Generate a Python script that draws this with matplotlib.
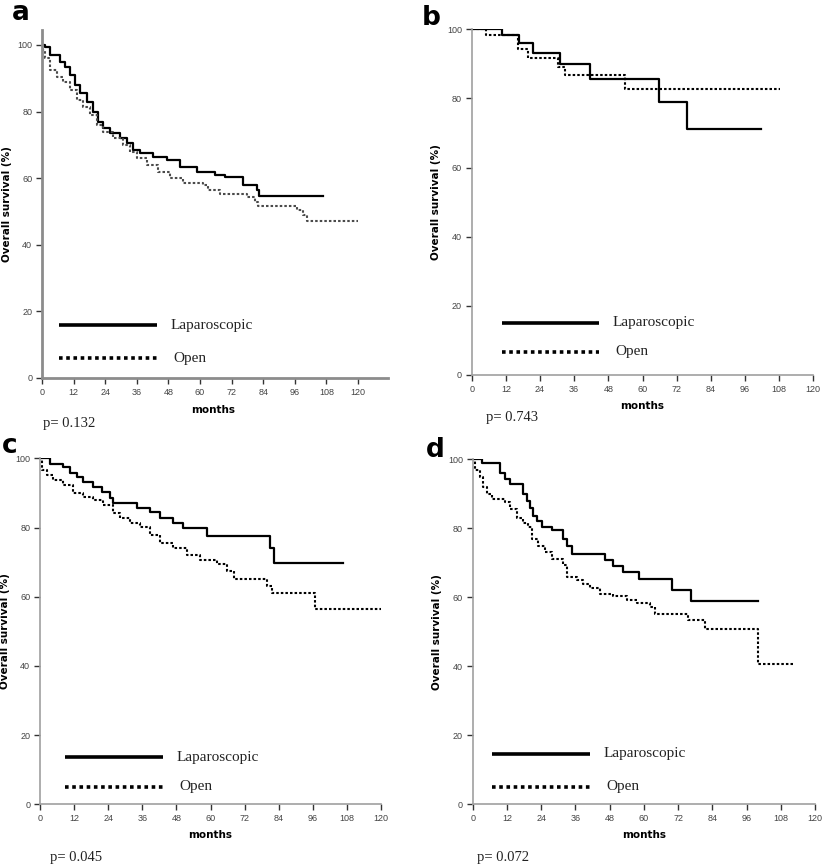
import matplotlib
matplotlib.use("Agg")
import matplotlib.pyplot as plt

# ---------------- data (months, overall survival %) ----------------
a_lap_t = [0, 0.5, 1.3, 3, 6.8, 8.7, 10.6, 12.5, 14.4, 17, 19.5, 21.4, 23.3, 25.8, 29.6, 32.2, 34.7, 37.2, 42.3, 47.4, 52.4, 58.8, 65.7, 69.5, 76.5, 81.5, 82.5, 106.8]
a_lap_s = [100, 100, 99.5, 97, 95, 93.5, 91, 88, 85.5, 83, 80, 77, 75, 73.5, 72, 70.5, 68.5, 67.5, 66.5, 65.5, 63.5, 62, 61, 60.3, 58, 56.5, 54.7, 54.7]
a_open_t = [0, 0.5, 1.1, 3, 5.6, 8.1, 10.6, 13.2, 15.7, 18.2, 20.8, 23.3, 27.1, 30.9, 33.4, 36, 39.8, 44, 48.6, 53.7, 61.3, 63.2, 67.6, 77.7, 80.9, 82.2, 96.7, 99.2, 100.5, 120]
a_open_s = [100, 98.5, 96, 92.5, 90.5, 89, 86.5, 83.5, 81.5, 79, 76, 74, 72, 70, 68, 66, 64, 62, 60, 58.7, 58, 56.5, 55.2, 54.5, 53, 51.5, 50.5, 49, 47.1, 47.1]

b_lap_t = [0, 10.5, 16.7, 21.6, 31, 41.5, 65.9, 75.8, 101.8]
b_lap_s = [100, 98.3, 95.9, 93.2, 90.1, 85.7, 78.9, 71.2, 71.2]
b_open_t = [0, 5, 16.4, 19.9, 30.4, 32.8, 53.8, 108.2]
b_open_s = [100, 98.3, 94.2, 91.6, 89.1, 86.7, 82.8, 82.8]

c_lap_t = [0, 3.5, 8.2, 10.6, 12.9, 15.2, 18.8, 21.7, 24.6, 25.8, 34, 38.7, 42.2, 46.9, 50.4, 58.8, 81, 82.2, 106.5]
c_lap_s = [100, 98.3, 97.6, 95.7, 94.7, 93.2, 91.8, 90.3, 88.4, 87, 85.5, 84.4, 82.7, 81.2, 79.8, 77.5, 74.2, 69.8, 69.8]
c_open_t = [0, 0.6, 2.3, 4.7, 8.2, 11.7, 15.2, 18.8, 22.3, 25.8, 28.1, 31.7, 35.2, 38.7, 42.2, 46.9, 51.6, 56.4, 62.3, 65.8, 68.1, 79.9, 81.6, 96.8, 120]
c_open_s = [100, 96.6, 95.2, 93.7, 92.3, 89.9, 88.9, 87.9, 86.5, 84.1, 82.7, 81.2, 80.2, 77.8, 75.4, 74, 72.1, 70.5, 69.5, 67.5, 65.1, 63, 61, 56.5, 56.5]

d_lap_t = [0, 3.2, 9.6, 11.3, 13.1, 17.8, 18.9, 20.1, 21.3, 22.4, 24.2, 27.7, 31.8, 33, 34.7, 46.4, 49.3, 52.8, 58.4, 69.8, 76.5, 100.1]
d_lap_s = [100, 98.8, 96, 94.2, 92.7, 90, 88, 86, 83.5, 82, 80.4, 79.4, 77, 75, 72.6, 70.8, 69, 67.3, 65.3, 62.2, 58.8, 58.8]
d_open_t = [0, 0.8, 2.6, 3.7, 4.9, 6.7, 11.3, 13.1, 15.4, 17.8, 19.5, 20.7, 23, 25.4, 27.7, 31.8, 33, 36.5, 38.8, 41.1, 44.6, 49.3, 54, 57.5, 62.2, 63.9, 75.6, 81.4, 100.1, 112.4]
d_open_s = [100, 97, 95, 92, 90, 88.5, 87.5, 85.5, 83, 81.5, 80.3, 77, 75, 73, 71, 69.5, 66, 65, 64, 62.7, 61, 60.3, 59.3, 58.3, 57.3, 55.3, 53.3, 50.7, 40.6, 40.6]

p_values = ["p= 0.132", "p= 0.743", "p= 0.045", "p= 0.072"]
panel_letters = ["a", "b", "c", "d"]
legend_labels = ["Laparoscopic", "Open"]
x_ticks = list(range(0, 121, 12))
y_ticks = [0, 20, 40, 60, 80, 100]

W, H = 823, 866
fig = plt.figure(figsize=(W / 100, H / 100), dpi=100)

def fx(px):
    return px / W

def fy(py):
    return 1 - py / H

panels = [
    dict(box=(42, 388, 30, 378), xlim=(0, 131.4), ylim=(0, 104.5),
         lap=(a_lap_t, a_lap_s), opn=(a_open_t, a_open_s), open_color="#4a4a4a",
         leg=dict(x0=6.5, x1=43.7, y_lap=15.9, y_open=6.0, tx=49, tx2=49.8),
         months=(213, 410), p=(43, 423), letter=(12, 20), spine_w=2.0, spine_c="#8c8c8c"),
    dict(box=(471.7, 813.3, 29.3, 375), xlim=(0, 120), ylim=(0, 100),
         lap=(b_lap_t, b_lap_s), opn=(b_open_t, b_open_s), open_color="black",
         leg=dict(x0=10.5, x1=44.7, y_lap=15.1, y_open=6.7, tx=49.6, tx2=50.3),
         months=(642, 406), p=(486, 417), letter=(422, 25), spine_w=1.2, spine_c="#a0a0a0"),
    dict(box=(40, 381, 458.3, 804.3), xlim=(0, 120), ylim=(0, 100),
         lap=(c_lap_t, c_lap_s), opn=(c_open_t, c_open_s), open_color="black",
         leg=dict(x0=8.8, x1=43.2, y_lap=13.6, y_open=5.1, tx=48.1, tx2=49),
         months=(210, 835), p=(50, 858), letter=(2, 453), spine_w=1.2, spine_c="#a0a0a0"),
    dict(box=(472.7, 815, 459.3, 804.3), xlim=(0, 120), ylim=(0, 100),
         lap=(d_lap_t, d_lap_s), opn=(d_open_t, d_open_s), open_color="black",
         leg=dict(x0=6.9, x1=41.1, y_lap=14.6, y_open=5.1, tx=46, tx2=47),
         months=(644, 835), p=(477, 858), letter=(426, 457), spine_w=1.2, spine_c="#a0a0a0"),
]

for i, P in enumerate(panels):
    l, r, t, b = P["box"]
    ax = fig.add_axes([fx(l), fy(b), fx(r) - fx(l), fy(t) - fy(b)])
    ax.set_xlim(*P["xlim"])
    ax.set_ylim(*P["ylim"])
    ax.step(P["lap"][0], P["lap"][1], where="post", color="black", lw=1.6)
    ax.step(P["opn"][0], P["opn"][1], where="post", color=P["open_color"], lw=1.5,
            linestyle=(0, (1.2, 1.0)))
    L = P["leg"]
    ax.plot([L["x0"], L["x1"]], [L["y_lap"], L["y_lap"]], color="black", lw=2.6,
            solid_capstyle="butt")
    ax.plot([L["x0"], L["x1"]], [L["y_open"], L["y_open"]], color="black", lw=2.6,
            linestyle=(0, (1.0, 1.0)))
    ax.text(L["tx"], L["y_lap"], legend_labels[0], family="Liberation Serif", fontsize=11,
            va="center", ha="left", color="#222222")
    ax.text(L["tx2"], L["y_open"], legend_labels[1], family="Liberation Serif", fontsize=11,
            va="center", ha="left", color="#222222")
    for s in ["top", "right"]:
        ax.spines[s].set_visible(False)
    for s in ["left", "bottom"]:
        ax.spines[s].set_color(P["spine_c"])
        ax.spines[s].set_linewidth(P["spine_w"])
    ax.set_xticks(x_ticks)
    ax.set_yticks(y_ticks)
    ax.tick_params(axis="both", direction="out", length=4, width=1.0, color="#333333",
                   labelsize=6.5, labelcolor="#444444", pad=3)
    for lab in ax.get_xticklabels() + ax.get_yticklabels():
        lab.set_family("Liberation Sans")
    ax.set_ylabel("Overall survival (%)", fontsize=7.5, fontweight="bold", labelpad=4,
                  family="DejaVu Sans")
    mx, my = P["months"]
    fig.text(fx(mx), fy(my), "months", fontsize=7.5, fontweight="bold", ha="center",
             va="center", family="DejaVu Sans")
    px, py = P["p"]
    fig.text(fx(px), fy(py), p_values[i], fontsize=10.5, family="Liberation Serif",
             ha="left", va="center", color="#222222")
    lx, ly = P["letter"]
    fig.text(fx(lx), fy(ly), panel_letters[i], fontsize=19, fontweight="bold",
             ha="left", va="baseline", family="DejaVu Sans")

fig.savefig("out.png", dpi=100, facecolor="white")
